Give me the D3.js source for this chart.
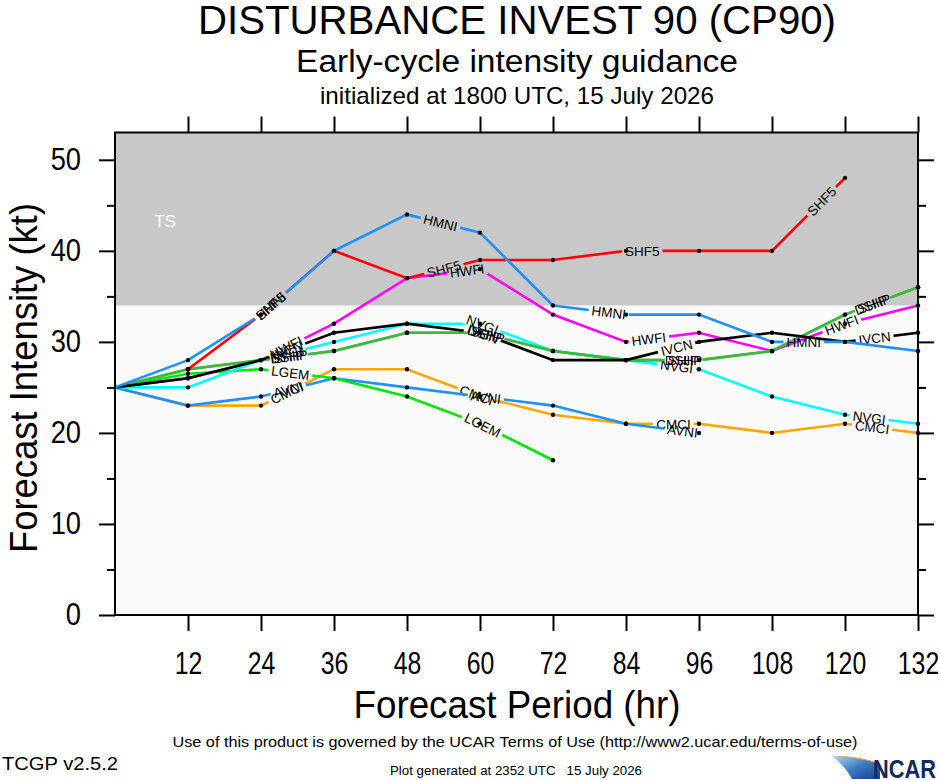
<!DOCTYPE html>
<html>
<head>
<meta charset="utf-8">
<script src="https://cdn.jsdelivr.net/npm/d3@7"></script>
<style>
  body { margin: 0; background: #fff; }
  svg text { font-family: "Liberation Sans", Arial, Helvetica, sans-serif; }
</style>
</head>
<body>
<div id="chart"></div>
<script>
// forecast hours and model values (kt), null = no forecast
var hours = [0, 12, 24, 36, 48, 60, 72, 84, 96, 108, 120, 132];
var shf5 = [null, 27, 33, 40, 37, 39, 39, 40, 40, 40, 48, null];
var hmni = [25, 28, 33, 40, 44, 42, 34, 33, 33, 30, 30, 29];
var hwfi = [25, 26, 28, 32, 37, 38, 33, 30, 31, 29, 32, 34];
var ivcn = [25, 26, 28, 31, 32, 31, 28, 28, 30, 31, 30, 31];
var nvgi = [25, 25, 28, 30, 32, 32, 29, 28, 27, 24, 22, 21];
var dshp = [25, 27, 28, 29, 31, 31, 29, 28, 28, 29, 33, 36];
var ship = [25, 27, 28, 29, 31, 31, 29, 28, 28, 29, 33, 36];
var lgem = [25, 26.5, 27, 26, 24, 21, 17, null, null, null, null, null];
var avni = [25, 23, 24, 26, 25, 24, 23, 21, 20, null, null, null];
var cmci = [25, 23, 23, 27, 27, 24, 22, 21, 21, 20, 21, 20];

var yTicks = [0, 10, 20, 30, 40, 50];
var yMinor = [5, 15, 25, 35, 45];
var tsLimit = 34;

// drawing order, bottom first
var series = [
    { name: "CMCI", values: cmci, color: "#ffa500" },
    { name: "AVNI", values: avni, color: "#1e90ff" },
    { name: "LGEM", values: lgem, color: "#00e600" },
    { name: "HWFI", values: hwfi, color: "#ff00ff" },
    { name: "NVGI", values: nvgi, color: "#00ffff" },
    { name: "SHIP", values: ship, color: "#3cb83c" },
    { name: "DSHP", values: dshp, color: "#3cb83c" },
    { name: "IVCN", values: ivcn, color: "#000000" },
    { name: "SHF5", values: shf5, color: "#ff0000" },
    { name: "HMNI", values: hmni, color: "#1e90ff" }
];

var width = 940, height = 780;
var plotL = 115, plotR = 918, plotT = 132.5, plotB = 615;

var x = d3.scaleLinear().domain([0, 132]).range([plotL, plotR]);
var y = d3.scaleLinear().domain([0, 53]).range([plotB, plotT]);

var svg = d3.select("#chart").append("svg")
    .attr("width", width)
    .attr("height", height);

svg.append("rect").attr("width", width).attr("height", height).attr("fill", "#fff");

var defs = svg.append("defs");

// squeeze text a bit, NCL helvetica looks narrower
function narrow(sel, k) {
    sel.each(function() {
        var w = this.getComputedTextLength();
        d3.select(this).attr("textLength", w * k).attr("lengthAdjust", "spacingAndGlyphs");
    });
}

// background: light below TS, grey band for TS
svg.append("rect")
    .attr("x", plotL).attr("y", y(tsLimit))
    .attr("width", plotR - plotL).attr("height", plotB - y(tsLimit))
    .attr("fill", "#fafafa");
svg.append("rect")
    .attr("x", plotL).attr("y", plotT)
    .attr("width", plotR - plotL).attr("height", y(tsLimit) - plotT)
    .attr("fill", "#c8c8c8");
svg.append("text")
    .attr("x", 165).attr("y", 227)
    .attr("text-anchor", "middle")
    .attr("fill", "#fff")
    .style("font-size", "17px")
    .text("TS");

// model lines
var labelStart = 177, labelStep = 200;

series.forEach(function(s) {
    var pts = [];
    hours.forEach(function(h, i) {
        if (s.values[i] != null) pts.push([x(h), y(s.values[i])]);
    });

    var maskId = "m-" + s.name;
    var mask = defs.append("mask")
        .attr("id", maskId)
        .attr("maskUnits", "userSpaceOnUse")
        .attr("x", 0).attr("y", 0).attr("width", width).attr("height", height);
    mask.append("rect").attr("width", width).attr("height", height).attr("fill", "#fff");

    var g = svg.append("g");
    g.append("path")
        .attr("d", d3.line()(pts))
        .attr("fill", "none")
        .attr("stroke", s.color)
        .attr("stroke-width", 2.6)
        .attr("mask", "url(#" + maskId + ")");

    // arc length, counted from hour 0
    var cum = [pts[0][0] - x(0)];
    for (var i = 1; i < pts.length; i++) {
        var dx = pts[i][0] - pts[i - 1][0], dy = pts[i][1] - pts[i - 1][1];
        cum.push(cum[i - 1] + Math.sqrt(dx * dx + dy * dy));
    }
    var total = cum[cum.length - 1];

    for (var a = labelStart; a < total - 12; a += labelStep) {
        var j = 0;
        while (j < cum.length - 2 && cum[j + 1] < a) j++;
        var t = (a - cum[j]) / (cum[j + 1] - cum[j]);
        var p0 = pts[j], p1 = pts[j + 1];
        var px = p0[0] + t * (p1[0] - p0[0]);
        var py = p0[1] + t * (p1[1] - p0[1]);
        var ang = Math.atan2(p1[1] - p0[1], p1[0] - p0[0]) * 180 / Math.PI;

        var lbl = g.append("text")
            .attr("transform", "translate(" + px + "," + py + ") rotate(" + ang + ")")
            .attr("text-anchor", "middle")
            .attr("dy", "0.36em")
            .attr("fill", "#000")
            .style("font-size", "13.5px")
            .text(s.name);
        var tw = lbl.node().getComputedTextLength();
        mask.append("rect")
            .attr("x", -tw / 2 - 3).attr("y", -6)
            .attr("width", tw + 6).attr("height", 12)
            .attr("transform", "translate(" + px + "," + py + ") rotate(" + ang + ")")
            .attr("fill", "#000");
    }
});

// data dots on top
series.forEach(function(s) {
    svg.append("g").selectAll("circle")
        .data(hours.map(function(h, i) { return { h: h, v: s.values[i] }; })
            .filter(function(d) { return d.v != null && d.h > 0; }))
        .enter().append("circle")
        .attr("cx", function(d) { return x(d.h); })
        .attr("cy", function(d) { return y(d.v); })
        .attr("r", 2.2)
        .attr("fill", "#000");
});

// axes
function styleAxis(g) {
    g.select(".domain").remove();
    g.selectAll(".tick line").attr("stroke", "#000").attr("stroke-width", 2);
}

var xTickVals = hours.slice(1);

svg.append("g")
    .attr("transform", "translate(0," + plotB + ")")
    .call(d3.axisBottom(x).tickValues(xTickVals).tickSize(16).tickPadding(21))
    .call(styleAxis)
    .call(function(g) {
        g.selectAll("text").attr("fill", "#000").style("font-size", "31px").call(narrow, 0.8);
    });

svg.append("g")
    .attr("transform", "translate(0," + plotT + ")")
    .call(d3.axisTop(x).tickValues(xTickVals).tickSize(16).tickFormat(""))
    .call(styleAxis);

svg.append("g")
    .attr("transform", "translate(" + plotL + ",0)")
    .call(d3.axisLeft(y).tickValues(yTicks).tickSize(16).tickPadding(18))
    .call(styleAxis)
    .call(function(g) {
        g.selectAll("text").attr("fill", "#000").style("font-size", "31px").call(narrow, 0.88);
    });

svg.append("g")
    .attr("transform", "translate(" + plotL + ",0)")
    .call(d3.axisLeft(y).tickValues(yMinor).tickSize(8).tickFormat(""))
    .call(styleAxis);

svg.append("g")
    .attr("transform", "translate(" + plotR + ",0)")
    .call(d3.axisRight(y).tickValues(yTicks).tickSize(16).tickFormat(""))
    .call(styleAxis);

svg.append("g")
    .attr("transform", "translate(" + plotR + ",0)")
    .call(d3.axisRight(y).tickValues(yMinor).tickSize(8).tickFormat(""))
    .call(styleAxis);

// frame
svg.append("rect")
    .attr("x", plotL).attr("y", plotT)
    .attr("width", plotR - plotL).attr("height", plotB - plotT)
    .attr("fill", "none")
    .attr("stroke", "#000")
    .attr("stroke-width", 2);

// titles
var cx = 517;
function addText(txt, xx, yy, size, len, anchor) {
    return svg.append("text")
        .attr("x", xx).attr("y", yy)
        .attr("text-anchor", anchor || "middle")
        .attr("fill", "#000")
        .attr("textLength", len)
        .attr("lengthAdjust", "spacingAndGlyphs")
        .style("font-size", size + "px")
        .text(txt);
}

addText("DISTURBANCE INVEST 90 (CP90)", cx, 34, 41, 638);
addText("Early-cycle intensity guidance", cx, 72, 31, 442);
addText("initialized at 1800 UTC, 15 July 2026", cx, 104, 24, 394);

addText("Forecast Period (hr)", cx, 718, 38, 327);

svg.append("text")
    .attr("transform", "translate(37,378) rotate(-90)")
    .attr("text-anchor", "middle")
    .attr("fill", "#000")
    .attr("textLength", 350)
    .attr("lengthAdjust", "spacingAndGlyphs")
    .style("font-size", "39px")
    .text("Forecast Intensity (kt)");

// footer
addText("Use of this product is governed by the UCAR Terms of Use (http://www2.ucar.edu/terms-of-use)", 515, 747, 15, 685);
addText("TCGP v2.5.2", 2, 770, 19, 116, "start");
addText("Plot generated at 2352 UTC   15 July 2026", 516, 775, 12, 252)
    .style("white-space", "pre");

// NCAR logo
var grad = defs.append("linearGradient").attr("id", "ncarGrad")
    .attr("x1", "0%").attr("y1", "0%").attr("x2", "100%").attr("y2", "100%");
grad.append("stop").attr("offset", "0%").attr("stop-color", "#b8d8f2");
grad.append("stop").attr("offset", "50%").attr("stop-color", "#3d7cc4");
grad.append("stop").attr("offset", "100%").attr("stop-color", "#173e8a");

svg.append("path")
    .attr("d", "M832,756 Q860,756 880,764 L880,779 L852,779 Q845,766 832,756 Z")
    .attr("fill", "url(#ncarGrad)");
svg.append("path")
    .attr("d", "M838,756.5 Q858,757 874,762")
    .attr("fill", "none")
    .attr("stroke", "#f0a040")
    .attr("stroke-width", 1.2);

svg.append("text")
    .attr("x", 873).attr("y", 778)
    .attr("fill", "#15295b")
    .attr("textLength", 63)
    .attr("lengthAdjust", "spacingAndGlyphs")
    .style("font-size", "25px")
    .style("font-weight", "bold")
    .text("NCAR");
</script>
</body>
</html>
